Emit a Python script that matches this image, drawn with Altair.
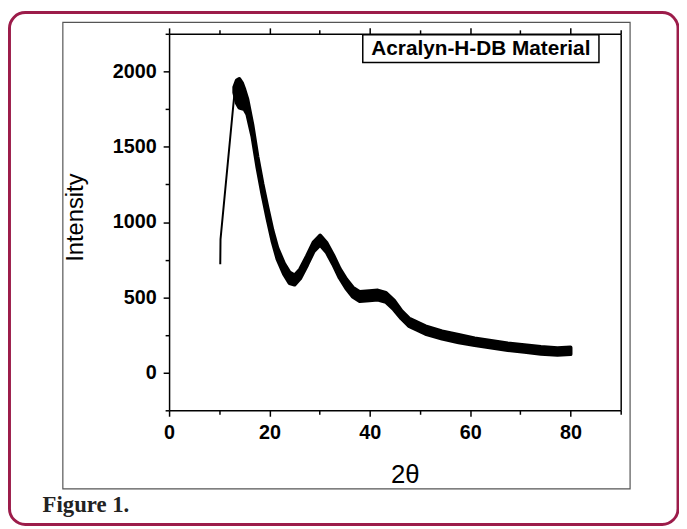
import altair as alt
import pandas as pd

# ---------------- data ----------------
X_BAND = [13.0, 13.5, 14.0, 14.5, 15.0, 15.6, 16.6, 17.6, 18.6, 19.6, 20.6, 21.6,
          22.9, 24.0, 25.0, 26.1, 27.5, 28.8, 30.1, 31.4, 32.7, 34.0, 35.3, 36.6,
          38.0, 39.9, 41.6, 43.2, 44.8, 46.3, 47.8, 51.1, 54.4, 57.7, 60.9, 64.2,
          67.5, 70.8, 74.1, 77.4, 80.0]
Y_HIGH = [1895, 1940, 1950, 1925, 1880, 1815, 1645, 1435, 1255, 1095, 945, 825,
          725, 665, 645, 685, 775, 865, 910, 860, 780, 690, 620, 565,
          535, 540, 545, 530, 480, 410, 360, 308, 274, 250, 227, 210,
          194, 182, 170, 162, 167]
Y_LOW = [1860, 1790, 1760, 1755, 1750, 1715, 1570, 1365, 1185, 1025, 875, 755,
         655, 595, 585, 625, 715, 805, 850, 800, 720, 630, 560, 505,
         475, 480, 485, 470, 420, 360, 310, 258, 226, 202, 183, 166,
         150, 138, 126, 118, 123]
X_RISE = [10.2, 10.25, 13.1]
Y_RISE = [720, 885, 1880]

X_TICKS = [0, 10, 20, 30, 40, 50, 60, 70, 80, 90]
Y_TICKS = [-250, 0, 250, 500, 750, 1000, 1250, 1500, 1750, 2000, 2250]
X_DOMAIN = [0, 90]
Y_DOMAIN = [-250, 2250]

LABEL = "Acralyn-H-DB Material"
X_TITLE = "2θ"
Y_TITLE = "Intensity"
CAPTION = "Figure 1."

band = pd.DataFrame({"x": X_BAND, "low": Y_LOW, "high": Y_HIGH})
rise = pd.DataFrame({"x": X_RISE, "y": Y_RISE, "o": list(range(len(X_RISE)))})
one = pd.DataFrame({"k": [0]})

W, H = 457, 381
FONT = "Liberation Sans"

xs = alt.Scale(domain=X_DOMAIN, nice=False, zero=False)
ys = alt.Scale(domain=Y_DOMAIN, nice=False, zero=False)

common = dict(domainColor="black", domainWidth=1.5, tickColor="black", tickWidth=1.5,
              grid=False, title=None)

x_tick_size = {"condition": {"test": "datum.value % 20 === 0", "value": 6}, "value": 4}
y_tick_size = {"condition": {"test": "datum.value % 500 === 0", "value": 6}, "value": 4}

x_bottom = alt.Axis(orient="bottom", values=X_TICKS,
                    labelExpr="datum.value % 20 === 0 ? datum.label : ''",
                    tickSize=x_tick_size, labelFont=FONT, labelFontSize=20,
                    labelFontWeight="bold", labelColor="black", labelPadding=7,
                    labelFlush=False, labelOverlap=False, **common)
y_left = alt.Axis(orient="left", values=Y_TICKS, format="d",
                  labelExpr="datum.value % 500 === 0 ? datum.label : ''",
                  tickSize=y_tick_size, labelFont=FONT, labelFontSize=20,
                  labelFontWeight="bold", labelColor="black", labelPadding=7,
                  labelFlush=False, labelOverlap=False, **common)
x_top = alt.Axis(orient="top", values=X_TICKS, labels=False, tickSize=x_tick_size, **common)
y_right = alt.Axis(orient="right", values=Y_TICKS, labels=False, ticks=False, **common)

maroon = alt.Chart(one).mark_rect(fill="transparent", stroke="#9c1c4a", strokeWidth=3,
                                  cornerRadius=16).encode(
    x=alt.value(-161.5), x2=alt.value(515), y=alt.value(-21.5), y2=alt.value(496.5))
inner = alt.Chart(one).mark_rect(fill="transparent", stroke="#555555", strokeWidth=1.2).encode(
    x=alt.value(-107.5), x2=alt.value(466.5), y=alt.value(-11.5), y2=alt.value(460.5))

area = alt.Chart(band).mark_area(color="black", stroke="black", strokeWidth=4,
                                 strokeJoin="round").encode(
    x=alt.X("x:Q", scale=xs, axis=x_bottom),
    y=alt.Y("low:Q", scale=ys, axis=y_left),
    y2=alt.Y2("high:Q"))
rise_line = alt.Chart(rise).mark_line(color="black", strokeWidth=2).encode(
    x=alt.X("x:Q", scale=xs, axis=None),
    y=alt.Y("y:Q", scale=ys, axis=None),
    order="o:O")
frame = alt.Chart(band).mark_point(opacity=0).encode(
    x=alt.X("x:Q", scale=xs, axis=x_top),
    y=alt.Y("low:Q", scale=ys, axis=y_right))

label_box = alt.Chart(one).mark_rect(fill="white", stroke="black", strokeWidth=1.5).encode(
    x=alt.value(196), x2=alt.value(435), y=alt.value(1), y2=alt.value(29))
label_text = alt.Chart(one).mark_text(text=LABEL, font=FONT, fontSize=21, fontWeight="bold",
                                      align="center", baseline="middle", color="black").encode(
    x=alt.value(315.5), y=alt.value(15.5))
y_title = alt.Chart(one).mark_text(text=Y_TITLE, font=FONT, fontSize=24, angle=270,
                                   align="center", baseline="middle", color="black").encode(
    x=alt.value(-94), y=alt.value(186))
x_title = alt.Chart(one).mark_text(text=X_TITLE, font=FONT, fontSize=26,
                                   align="center", baseline="middle", color="black").encode(
    x=alt.value(239), y=alt.value(447))
caption = alt.Chart(one).mark_text(text=CAPTION, font="Liberation Serif", fontSize=23,
                                   fontWeight="bold", align="left", baseline="alphabetic",
                                   color="#222222").encode(
    x=alt.value(-128), y=alt.value(484))

chart = alt.layer(maroon, inner, area, rise_line, frame, label_box, label_text,
                  y_title, x_title, caption).resolve_axis(
    x="independent", y="independent").properties(
    width=W, height=H,
    padding={"left": 163, "top": 23, "right": 59, "bottom": 117},
    autosize=alt.AutoSizeParams(type="none")).configure_view(stroke=None)

chart.save("out.html", embed_options={"renderer": "svg", "actions": False})
